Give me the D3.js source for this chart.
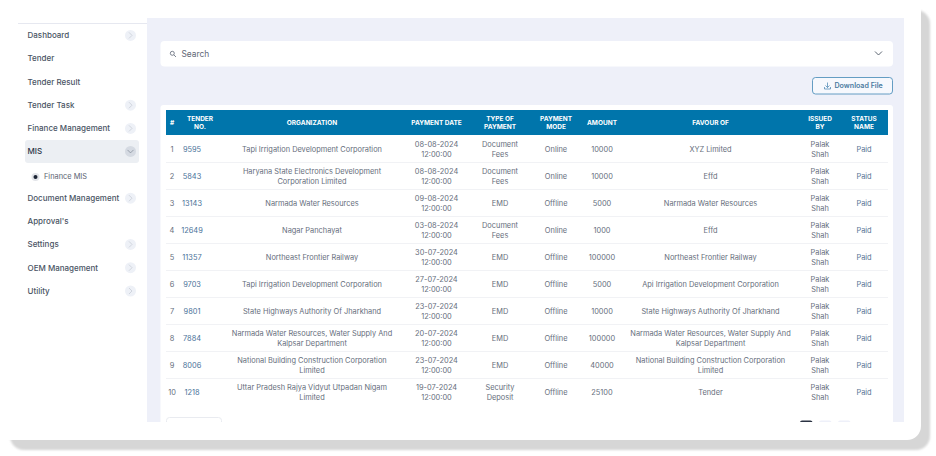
<!DOCTYPE html>
<html>
<head>
<meta charset="utf-8">
<script src="https://cdn.jsdelivr.net/npm/d3@7"></script>
<style>
  html, body { margin: 0; padding: 0; background: #fff; }
  svg { display: block; }
  text { font-family: Inter, "Noto Sans", sans-serif; }
</style>
</head>
<body>
<div class="demo"></div>
<script>
// table content
var columns = ["#", "TENDER NO.", "ORGANIZATION", "PAYMENT DATE", "TYPE OF PAYMENT", "PAYMENT MODE", "AMOUNT", "FAVOUR OF", "ISSUED BY", "STATUS NAME"];
var rowNos = [1, 2, 3, 4, 5, 6, 7, 8, 9, 10];
var tenderNos = [9595, 5843, 13143, 12649, 11357, 9703, 9801, 7884, 8006, 1218];
var organizations = [
  "Tapi Irrigation Development Corporation",
  "Haryana State Electronics Development Corporation Limited",
  "Narmada Water Resources",
  "Nagar Panchayat",
  "Northeast Frontier Railway",
  "Tapi Irrigation Development Corporation",
  "State Highways Authority Of Jharkhand",
  "Narmada Water Resources, Water Supply And Kalpsar Department",
  "National Building Construction Corporation Limited",
  "Uttar Pradesh Rajya Vidyut Utpadan Nigam Limited"
];
var paymentDates = ["08-08-2024 12:00:00", "08-08-2024 12:00:00", "09-08-2024 12:00:00", "03-08-2024 12:00:00", "30-07-2024 12:00:00", "27-07-2024 12:00:00", "23-07-2024 12:00:00", "20-07-2024 12:00:00", "23-07-2024 12:00:00", "19-07-2024 12:00:00"];
var paymentTypes = ["Document Fees", "Document Fees", "EMD", "Document Fees", "EMD", "EMD", "EMD", "EMD", "EMD", "Security Deposit"];
var paymentModes = ["Online", "Online", "Offline", "Online", "Offline", "Offline", "Offline", "Offline", "Offline", "Offline"];
var amounts = [10000, 10000, 5000, 1000, 100000, 5000, 10000, 100000, 40000, 25100];
var favours = [
  "XYZ Limited",
  "Effd",
  "Narmada Water Resources",
  "Effd",
  "Northeast Frontier Railway",
  "Api Irrigation Development Corporation",
  "State Highways Authority Of Jharkhand",
  "Narmada Water Resources, Water Supply And Kalpsar Department",
  "National Building Construction Corporation Limited",
  "Tender"
];
var issuers = ["Palak Shah", "Palak Shah", "Palak Shah", "Palak Shah", "Palak Shah", "Palak Shah", "Palak Shah", "Palak Shah", "Palak Shah", "Palak Shah"];
var statuses = ["Paid", "Paid", "Paid", "Paid", "Paid", "Paid", "Paid", "Paid", "Paid", "Paid"];

// sidebar
var menuItems = ["Dashboard", "Tender", "Tender Result", "Tender Task", "Finance Management", "MIS", "Finance MIS", "Document Management", "Approval's", "Settings", "OEM Management", "Utility"];
var menuChevrons = ["Dashboard", "Tender Task", "Finance Management", "MIS", "Document Management", "Settings", "OEM Management", "Utility"];

var w = 936, h = 456;
var svg = d3.select(".demo").append("svg").attr("width", w).attr("height", h);

// shadow + card
var blur = svg.append("filter").attr("id", "soft").attr("x", "-2%").attr("y", "-2%").attr("width", "104%").attr("height", "104%");
blur.append("feGaussianBlur").attr("stdDeviation", 1);
svg.append("rect").attr("x", 10).attr("y", 10).attr("width", 920).attr("height", 440).attr("rx", 14).attr("fill", "#d6d6d6").attr("filter", "url(#soft)");
svg.append("rect").attr("x", -20).attr("y", -20).attr("width", 941).attr("height", 460).attr("rx", 14).attr("fill", "#fff");

// main panel
svg.append("rect").attr("x", 147).attr("y", 18).attr("width", 757).attr("height", 404).attr("fill", "#eef0f9");
svg.append("line").attr("x1", 18).attr("x2", 147).attr("y1", 23.5).attr("y2", 23.5).attr("stroke", "#e6e8f0");

// sidebar menu
var menuY = d3.scaleOrdinal().domain(menuItems).range([35.4, 58.4, 81.9, 105.2, 128.4, 151.4, 176.9, 198.2, 221.4, 244.4, 267.7, 291]);

svg.append("rect").attr("x", 25).attr("y", 140).attr("width", 114).attr("height", 23).attr("rx", 3).attr("fill", "#eceff3");

var menu = svg.selectAll("g.menu").data(menuItems).enter().append("g").attr("class", "menu")
  .attr("transform", function(d) { return "translate(0," + menuY(d) + ")"; });

menu.append("text")
  .attr("x", function(d) { return d == "Finance MIS" ? 44 : 27.5; })
  .attr("dy", "0.35em")
  .attr("font-size", function(d) { return d == "Finance MIS" ? 7.4 : 8; })
  .attr("font-weight", function(d) { return d == "Finance MIS" ? 400 : 500; })
  .attr("fill", function(d) { return d == "MIS" ? "#2d3648" : d == "Finance MIS" ? "#5b6372" : "#4a5464"; })
  .text(function(d) { return d; });

var chev = menu.filter(function(d) { return menuChevrons.indexOf(d) >= 0; });
chev.append("circle").attr("cx", 130.5).attr("r", 5.5)
  .attr("fill", function(d) { return d == "MIS" ? "#d5dae2" : "#eef1f7"; });
chev.append("path")
  .attr("d", function(d) { return d == "MIS" ? "M127.5,-1.5L130.5,1.5L133.5,-1.5" : "M129,-3L132,0L129,3"; })
  .attr("fill", "none").attr("stroke", function(d) { return d == "MIS" ? "#7d8694" : "#c3c9d3"; }).attr("stroke-width", 0.7);

var sub = menu.filter(function(d) { return d == "Finance MIS"; });
sub.append("circle").attr("cx", 35.5).attr("r", 4).attr("fill", "#e3e5e9");
sub.append("circle").attr("cx", 35.5).attr("r", 2).attr("fill", "#1b2333");

// search box
svg.append("rect").attr("x", 160.5).attr("y", 41).attr("width", 732.5).attr("height", 25.5).attr("rx", 4).attr("fill", "#fff");
var search = svg.append("g").attr("fill", "none").attr("stroke", "#5d6675").attr("stroke-width", 0.8);
search.append("circle").attr("cx", 172.3).attr("cy", 53.3).attr("r", 2);
search.append("line").attr("x1", 173.8).attr("y1", 54.8).attr("x2", 176).attr("y2", 57);
svg.append("text").attr("x", 181.5).attr("y", 54).attr("dy", "0.35em").attr("font-size", 8.4).attr("fill", "#5f6776").text("Search");
svg.append("path").attr("d", "M875,51.5L878.5,55L882,51.5").attr("fill", "none").attr("stroke", "#4a5361").attr("stroke-width", 0.9);

// download button
svg.append("rect").attr("x", 812.5).attr("y", 77.5).attr("width", 80).attr("height", 16.5).attr("rx", 3).attr("fill", "#f6f8fd").attr("stroke", "#3f86b5").attr("stroke-width", 0.8);
var dl = svg.append("g").attr("fill", "none").attr("stroke", "#3f7fad").attr("stroke-width", 0.7);
dl.append("path").attr("d", "M827.5,82.5V87.5M825.5,85.5L827.5,87.5L829.5,85.5");
dl.append("path").attr("d", "M824.5,87V89H830.5V87");
svg.append("text").attr("x", 834.5).attr("y", 85.5).attr("dy", "0.35em").attr("font-size", 7.1).attr("font-weight", 600).attr("fill", "#4a7aa0").text("Download File");

// table card, clipped like the panel
svg.append("clipPath").attr("id", "panel").append("rect").attr("x", 147).attr("y", 18).attr("width", 757).attr("height", 404);
var card = svg.append("g").attr("clip-path", "url(#panel)");
card.append("rect").attr("x", 160.5).attr("y", 105).attr("width", 732.5).attr("height", 330).attr("rx", 3).attr("fill", "#fff");

// column centres and wrap widths, header of the tender column sits off its values
var colX = d3.scaleOrdinal().domain(columns).range([172, 192, 312, 436.5, 500, 556, 602, 710.5, 820, 864]);
var headX = d3.scaleOrdinal().domain(columns).range([172, 200, 312, 436.5, 500, 556, 602, 710.5, 820, 864]);
var colWrap = d3.scaleOrdinal().domain(columns).range([20, 30, 172, 56, 46, 40, 40, 172, 28, 32]);
var rowY = d3.scaleBand().domain(rowNos).range([135, 405]);

// split a string in lines so that it fits in the column, then centre them on y
function wrapText(sel, maxW, lineH) {
  sel.each(function() {
    var t = d3.select(this), words = t.text().split(" "), x = t.attr("x");
    var lines = [], cur = [];
    t.text(null);
    var probe = t.append("tspan");
    words.forEach(function(word) {
      cur.push(word);
      probe.text(cur.join(" "));
      if (probe.node().getComputedTextLength() > maxW(t.datum()) && cur.length > 1) {
        cur.pop();
        lines.push(cur.join(" "));
        cur = [word];
      }
    });
    lines.push(cur.join(" "));
    probe.remove();
    lines.forEach(function(line, i) {
      t.append("tspan").attr("x", x)
        .attr("dy", (i == 0 ? 0.35 * lineH / 1.3 - (lines.length - 1) * lineH / 2 : lineH) + "px")
        .text(line);
    });
  });
}

// header
card.append("rect").attr("x", 166).attr("y", 110).attr("width", 722).attr("height", 25).attr("fill", "#0075ab");
card.selectAll("text.head").data(columns).enter().append("text").attr("class", "head")
  .attr("x", function(d) { return headX(d); })
  .attr("y", 122.5)
  .attr("text-anchor", "middle")
  .attr("font-size", 6.5)
  .attr("font-weight", 700)
  .attr("fill", "#fff")
  .text(function(d) { return d; })
  .call(wrapText, function(d) { return colWrap(d); }, 8.4);

// row separators
card.selectAll("line.sep").data(rowNos.slice(0, 9)).enter().append("line").attr("class", "sep")
  .attr("x1", 166).attr("x2", 888)
  .attr("y1", function(d) { return rowY(d) + rowY.bandwidth() + 0.5; })
  .attr("y2", function(d) { return rowY(d) + rowY.bandwidth() + 0.5; })
  .attr("stroke", "#f1f2f5");

// cells, one series per column
var colValues = [rowNos, tenderNos, organizations, paymentDates, paymentTypes, paymentModes, amounts, favours, issuers, statuses];
var cellColor = { "TENDER NO.": "#4a7299", "STATUS NAME": "#567394" };

colValues.forEach(function(values, c) {
  var name = columns[c];
  card.selectAll("text.c" + c).data(values).enter().append("text").attr("class", "c" + c)
    .attr("x", colX(name))
    .attr("y", function(d, i) { return rowY(rowNos[i]) + rowY.bandwidth() / 2 + 0.7; })
    .attr("text-anchor", "middle")
    .attr("font-size", 7.4)
    .attr("fill", cellColor[name] || "#666e7c")
    .text(function(d) { return d; })
    .call(wrapText, function() { return colWrap(name); }, 10.6);
});

// pagination, mostly cut off by the panel edge
card.append("rect").attr("x", 166.5).attr("y", 417.5).attr("width", 55).attr("height", 20).attr("rx", 3).attr("fill", "#fff").attr("stroke", "#e9ebf0");
var pages = [1, 2, 3];
var pageX = d3.scalePoint().domain(pages).range([800, 838]);
card.selectAll("rect.page").data(pages).enter().append("rect").attr("class", "page")
  .attr("x", function(d) { return pageX(d); })
  .attr("y", 420.5).attr("width", 12.5).attr("height", 12).attr("rx", 2)
  .attr("fill", function(d) { return d == 1 ? "#2b3343" : "#eef0f9"; });
</script>
</body>
</html>
